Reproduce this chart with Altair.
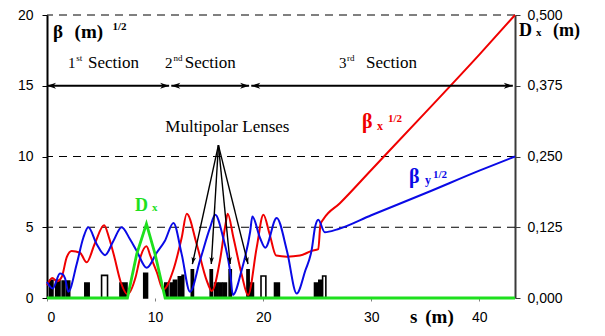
import math
import altair as alt
import pandas as pd

# ---------------- data ----------------
S_MAX = 43.3
BETA_MAX = 20
DX_MAX = 0.5

# beta_x^(1/2) (red)
bx_s = [0.0, 0.49, 0.95, 1.36, 1.82, 2.28, 3.05, 3.67, 4.4, 5.28, 5.74, 6.2, 6.82, 7.44, 8.2,
        8.6, 9.2, 9.6, 10.16, 10.76, 11.67, 12.46, 12.93, 13.85, 14.77, 15.24, 16.0, 16.47, 16.72,
        17.24, 18.0, 18.6, 19.4, 20.02, 20.6, 21.2, 22.2, 23.4, 24.5, 25.1, 25.3, 25.6, 27.1,
        30.0, 35.0, 40.0, 43.3]
bx_v = [0.9, 1.41, 1.18, 1.48, 2.87, 3.33, 3.2, 2.52, 3.8, 5.14, 4.26, 3.0, 1.13, 0.26, 1.48,
        2.78, 3.65, 2.9, 1.83, 0.6, 1.94, 4.26, 5.95, 3.8, 1.25, 0.5, 2.64, 5.0, 5.95,
        4.3, 1.7, 0.2, 3.56, 5.88, 4.5, 3.0, 2.92, 3.0, 3.33, 3.45, 5.19, 5.6, 6.7,
        9.05, 13.1, 17.2, 20.0]

# beta_y^(1/2) (blue)
by_s = [0.0, 0.53, 1.2, 1.4, 1.67, 1.97, 2.75, 3.36, 3.82, 4.6, 5.37, 6.14, 6.9, 7.68, 8.3,
        9.22, 10.15, 10.9, 11.7, 12.46, 13.23, 14.15, 15.08, 15.56, 16.3, 16.93, 17.2, 18.0,
        18.8, 19.0, 19.7, 20.2, 21.25, 22.2, 23.1, 23.9, 24.5, 24.8, 25.1, 25.7, 26.9,
        30.0, 35.0, 40.0, 43.3]
by_v = [1.13, 0.67, 1.74, 1.7, 1.39, 0.44, 2.4, 4.26, 5.0, 3.8, 3.03, 4.03, 5.0, 4.15, 3.33,
        2.13, 3.2, 4.03, 5.3, 3.1, 0.44, 2.64, 4.95, 5.88, 4.26, 1.94, 0.22, 1.94,
        4.7, 5.76, 4.26, 3.56, 5.65, 3.33, 0.32, 1.94, 3.45, 5.0, 5.53, 4.65, 4.86,
        5.85, 7.4, 9.0, 10.0]

# dispersion D_x in metres (green, right axis)
dx_s = [0.0, 7.44, 8.3, 9.2, 10.0, 10.93, 43.3]
dx_v = [0.0, 0.0, 0.0775, 0.131, 0.0775, 0.0, 0.0]

# lattice elements along s
lens_start = [0.25, 0.8, 1.4, 1.8, 3.5, 5.05, 6.75, 8.95, 10.9, 11.4, 11.7, 12.15, 12.5,
              13.35, 15.1, 15.5, 15.9, 16.3, 16.85, 18.5, 18.8, 19.8, 21.05, 24.75, 25.15, 25.5]
lens_end = [0.55, 1.2, 1.65, 2.1, 3.9, 5.6, 7.4, 9.3, 11.2, 11.7, 12.0, 12.45, 12.65,
            13.55, 15.3, 15.8, 16.2, 16.6, 17.05, 18.7, 19.1, 20.25, 21.5, 25.1, 25.4, 25.8]
lens_height = [1.25, 1.25, 1.2, 1.2, 1.05, 1.6, 1.05, 1.75, 1.05, 1.05, 1.25, 1.5, 1.6,
               2.0, 2.0, 1.05, 1.05, 1.05, 2.0, 2.0, 1.05, 1.55, 1.05, 1.05, 1.25, 1.55]
lens_kind = ["solid", "solid", "solid", "solid", "solid", "open", "solid", "solid", "solid",
             "solid", "solid", "solid", "solid", "solid", "solid", "solid", "solid", "solid",
             "solid", "solid", "solid", "open", "solid", "solid", "solid", "open"]

left_ticks = [0, 5, 10, 15, 20]
right_ticks = [0.0, 0.125, 0.25, 0.375, 0.5]
x_ticks = [0, 10, 20, 30, 40]
dashed_levels = [5, 10, 20]

sec_start = [0.0, 11.5, 18.9]
sec_end = [11.3, 18.7, 43.1]
sec_level = 15
sec_num = ["1", "2", "3"]
sec_suffix = ["st", "nd", "rd"]

apex_s, apex_v = 15.86, 10.8
tip_s = [13.45, 15.2, 16.95, 18.6]
tip_v = 2.4

# ---------------- layout ----------------
W, H = 468, 283
px_s = W / S_MAX
px_v = H / BETA_MAX

RED, BLUE, GREEN = "#f00000", "#0a0ae6", "#1ee01e"
SERIF = "Liberation Serif"
SANS = "Liberation Sans"

xs = alt.Scale(domain=[0, S_MAX], nice=False, zero=False)
ys = alt.Scale(domain=[0, BETA_MAX], nice=False, zero=False)

ARROW = "M0,0 L0.6,1.8 L0,1.3 L-0.6,1.8 Z"

x_axis = alt.Axis(values=x_ticks, title=None, domain=False, tickSize=3, tickColor="#808080",
                  labelPadding=9, grid=False, labelFont=SANS, labelFontSize=14, labelColor="black")
y_axis = alt.Axis(values=left_ticks, title=None, orient="left", domainColor="black", domainWidth=2,
                  tickColor="black", tickSize=5, labelPadding=9, grid=False,
                  labelFont=SANS, labelFontSize=14, labelColor="black")
r_axis = alt.Axis(values=right_ticks, title=None, orient="right", domainColor="#3a3a3a", domainWidth=2,
                  tickColor="#3a3a3a", tickSize=5, labelPadding=7, grid=False,
                  labelFont=SANS, labelFontSize=14, labelColor="black",
                  labelExpr="replace(format(datum.value, '.3f'), '.', ',')")


def X(f="s"):
    return alt.X(f"{f}:Q", scale=xs, axis=x_axis)


def Y(f="v"):
    return alt.Y(f"{f}:Q", scale=ys, axis=y_axis)


grid = alt.Chart(pd.DataFrame({"v": dashed_levels})).mark_rule(
    color="black", strokeWidth=1, strokeDash=[8, 6]).encode(y=Y("v"))

lens_df = pd.DataFrame({"s": lens_start, "e": lens_end, "z": [0] * len(lens_start),
                        "h": lens_height, "kind": lens_kind})
lenses = alt.Chart(lens_df).mark_rect(stroke="black", strokeWidth=1.6).encode(
    x=X("s"), x2="e", y=Y("z"), y2="h",
    fill=alt.condition(alt.datum.kind == "open", alt.value("white"), alt.value("black")))

red = alt.Chart(pd.DataFrame({"s": bx_s, "v": bx_v})).mark_line(
    color=RED, strokeWidth=2, interpolate="monotone").encode(x=X("s"), y=Y("v"))
blue = alt.Chart(pd.DataFrame({"s": by_s, "v": by_v})).mark_line(
    color=BLUE, strokeWidth=2, interpolate="monotone").encode(x=X("s"), y=Y("v"))

sec_df = pd.DataFrame({"s": sec_start, "e": sec_end, "v": [sec_level] * 3})
sec_lines = alt.Chart(sec_df).mark_rule(color="black", strokeWidth=2).encode(
    x=X("s"), x2="e", y=Y("v"))
head_rows = []
for a, b in zip(sec_start, sec_end):
    head_rows.append({"s": a, "v": sec_level, "a": 270})
    head_rows.append({"s": b, "v": sec_level, "a": 90})
sec_heads = alt.Chart(pd.DataFrame(head_rows)).mark_point(
    shape=ARROW, filled=True, color="black", opacity=1, size=100, strokeWidth=0).encode(
    x=X("s"), y=Y("v"), angle=alt.Angle("a:Q", scale=None))

mp_df = pd.DataFrame({"s": [apex_s] * len(tip_s), "v": [apex_v] * len(tip_s),
                      "e": tip_s, "w": [tip_v] * len(tip_s)})
mp_lines = alt.Chart(mp_df).mark_rule(color="black", strokeWidth=1.4).encode(
    x=X("s"), x2="e", y=Y("v"), y2="w")
mp_rows = []
for t in tip_s:
    sx = (t - apex_s) * px_s
    sy = (apex_v - tip_v) * px_v
    ang = math.degrees(math.atan2(sx, -sy)) % 360
    mp_rows.append({"s": t, "v": tip_v, "a": ang})
mp_heads = alt.Chart(pd.DataFrame(mp_rows)).mark_point(
    shape=ARROW, filled=True, color="black", opacity=1, size=60, strokeWidth=0).encode(
    x=X("s"), y=Y("v"), angle=alt.Angle("a:Q", scale=None))


def label(text, s, v, size, color="black", bold=True, font=SERIF, align="left"):
    return alt.Chart(pd.DataFrame({"s": [s], "v": [v], "t": [text]})).mark_text(
        align=align, baseline="alphabetic", font=font, fontSize=size,
        fontWeight="bold" if bold else "normal", color=color).encode(
        x=X("s"), y=Y("v"), text="t:N")


texts = [
    label("β", 0.56, 18.37, 19),
    label("(m)", 2.55, 18.37, 19),
    label("1/2", 6.05, 18.94, 11),
    label("D", 43.66, 18.5, 18),
    label("x", 45.24, 18.5, 11),
    label("(m)", 46.81, 18.5, 18),
    label("s", 33.58, -1.77, 19),
    label("(m)", 35.0, -1.77, 19),
    label("β", 29.14, 12.01, 20, RED),
    label("x", 30.53, 11.87, 12, RED),
    label("1/2", 31.54, 12.44, 11, RED),
    label("β", 33.49, 8.13, 20, BLUE),
    label("y", 34.97, 8.06, 12, BLUE),
    label("1/2", 35.71, 8.48, 11, BLUE),
    label("D", 8.14, 6.15, 18, GREEN),
    label("x", 9.71, 6.15, 11, GREEN),
    label("Multipolar Lenses", 16.69, 11.75, 17, bold=False, align="center"),
]
sec_num_s = [1.94, 10.92, 27.01]
sec_suf_s = [2.7, 11.7, 27.75]
sec_word_s = [3.8, 12.75, 29.51]
for i in range(3):
    texts.append(label(sec_num[i], sec_num_s[i], 16.25, 15, bold=False))
    texts.append(label(sec_suffix[i], sec_suf_s[i], 16.75, 9, bold=False))
    texts.append(label("Section", sec_word_s[i], 16.25, 17, bold=False))

inner = alt.layer(grid, lenses, red, blue, sec_lines, sec_heads, mp_lines, mp_heads, *texts)

dx_layer = alt.Chart(pd.DataFrame({"s": dx_s, "d": dx_v})).mark_line(
    color=GREEN, strokeWidth=2.8).encode(
    x=X("s"), y=alt.Y("d:Q", scale=alt.Scale(domain=[0, DX_MAX], nice=False, zero=False), axis=r_axis))

chart = alt.layer(inner, dx_layer).resolve_scale(y="independent").properties(
    width=W, height=H,
    autosize=alt.AutoSizeParams(type="none"),
    padding={"left": 39, "top": 7, "right": 82, "bottom": 30},
).configure_view(stroke=None)

chart.save("out.html", embed_options={"renderer": "svg", "actions": False})
